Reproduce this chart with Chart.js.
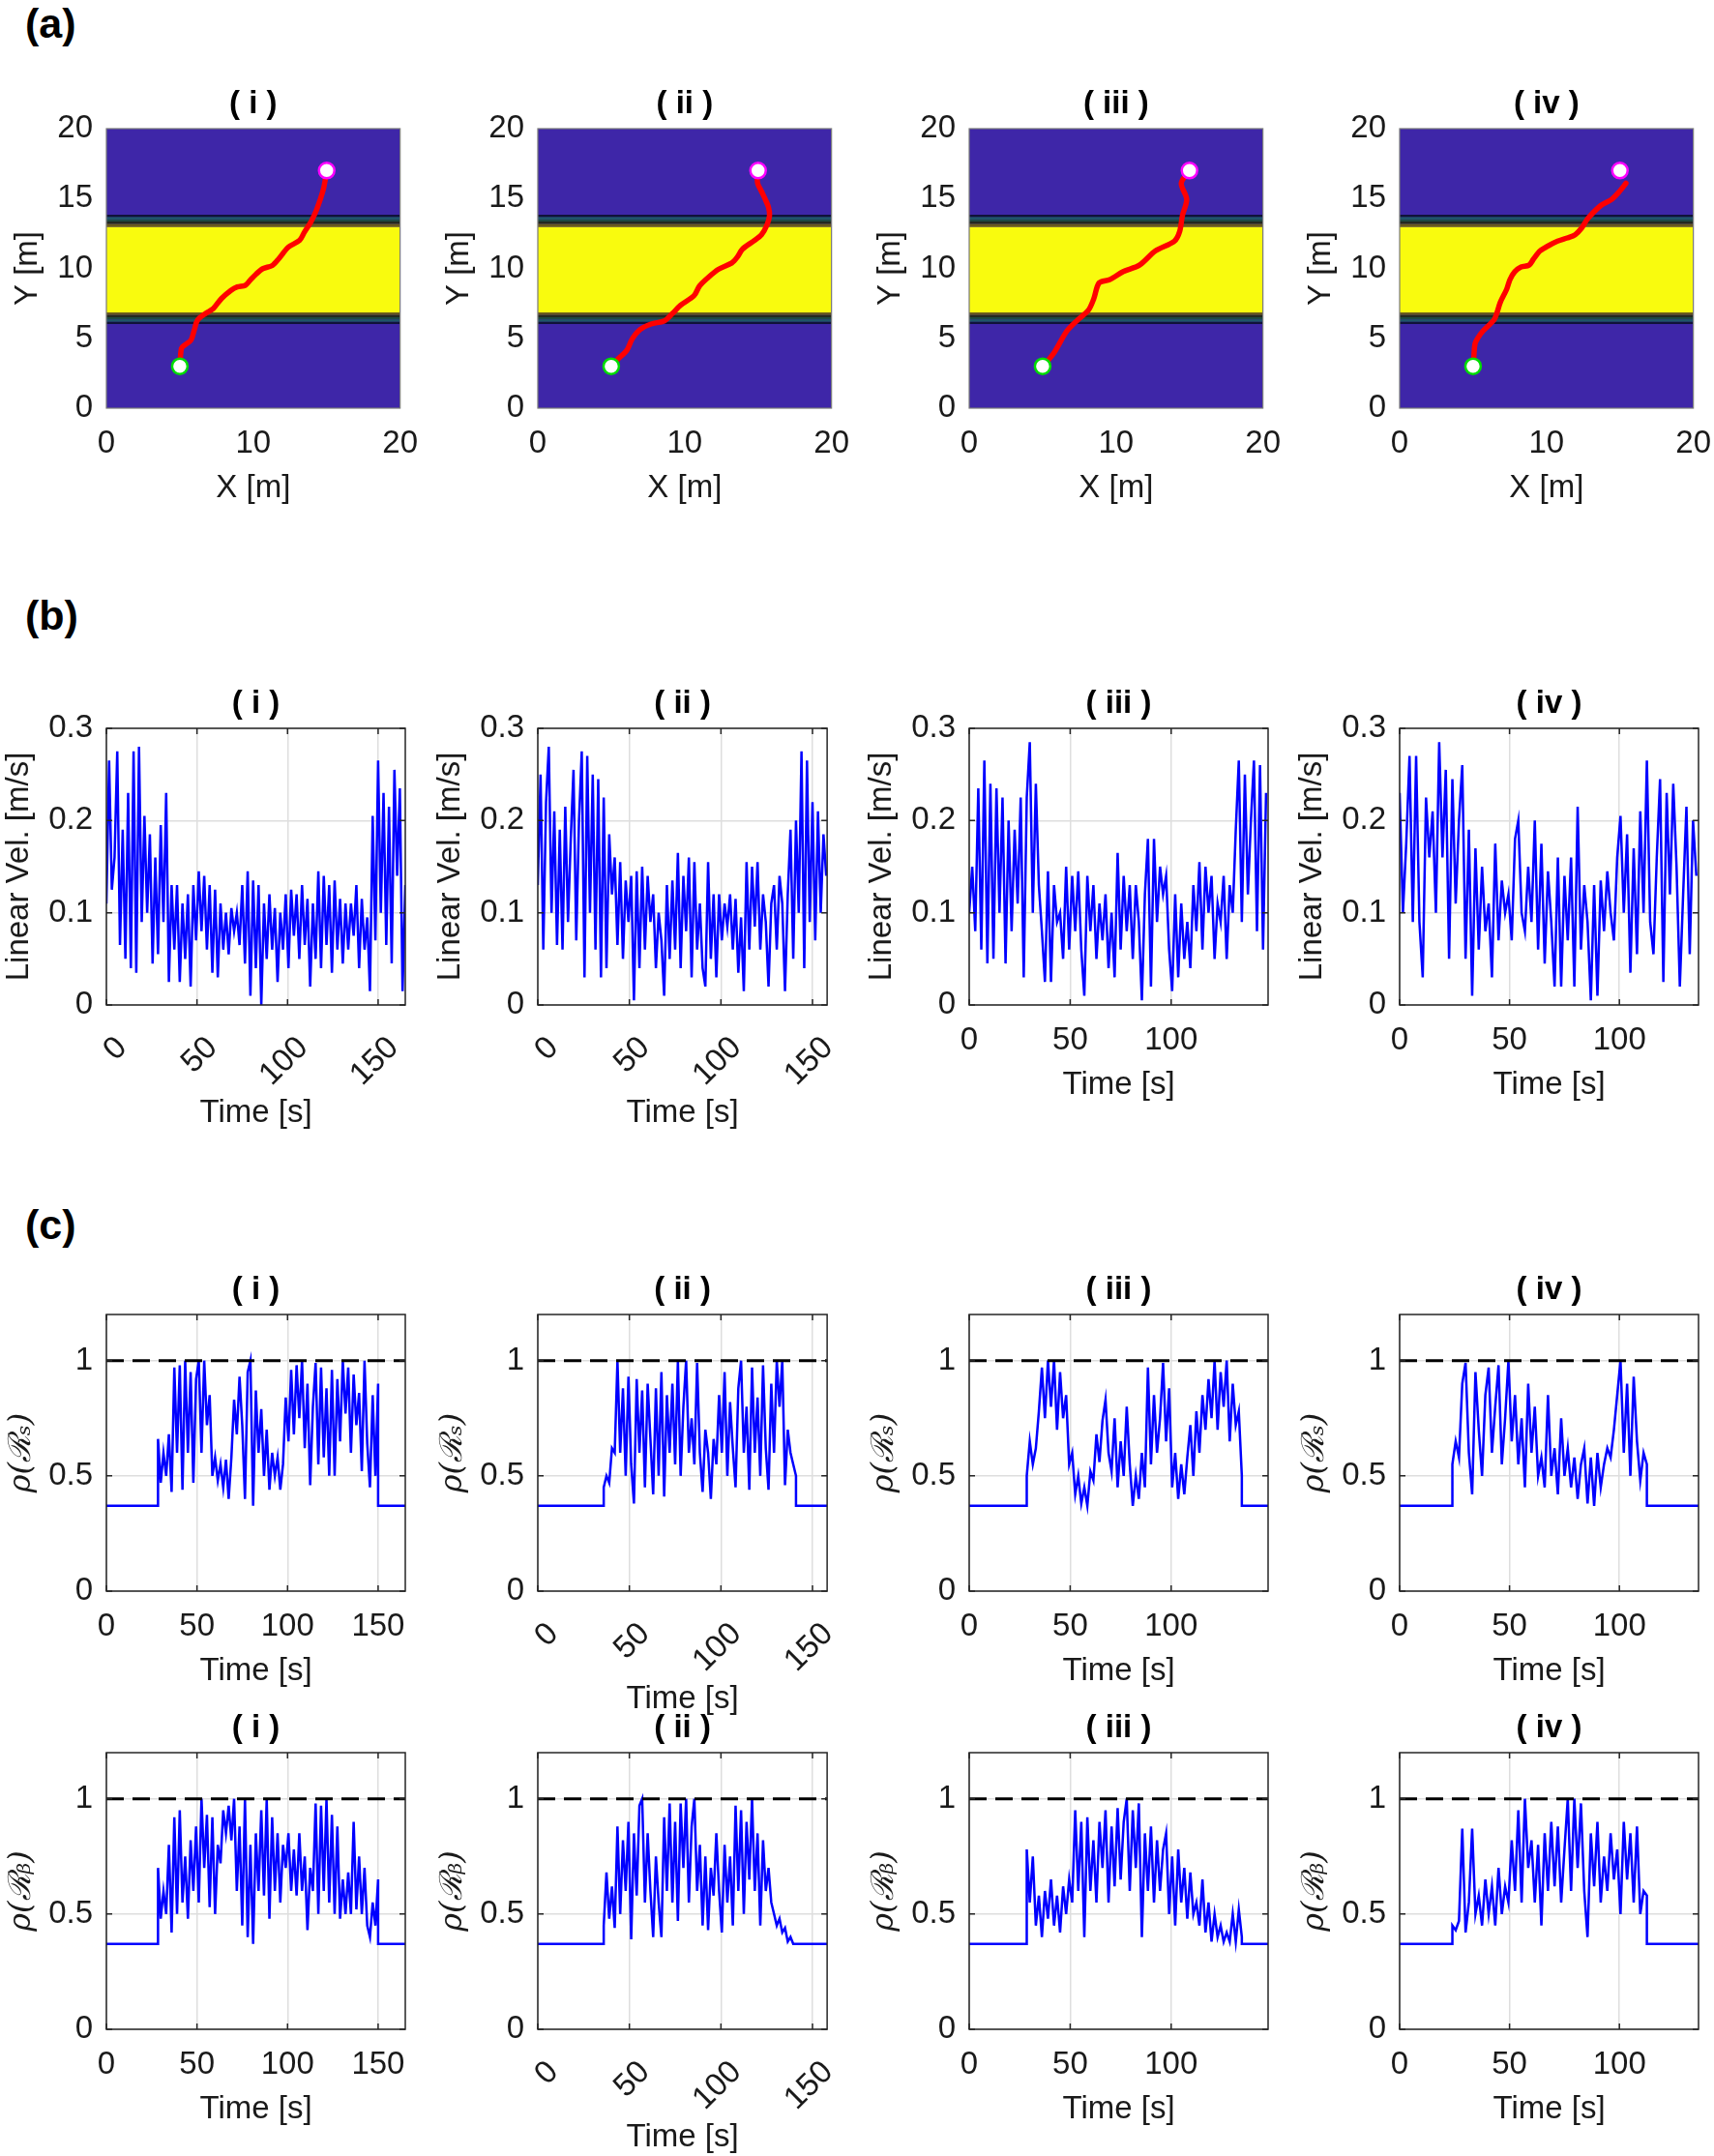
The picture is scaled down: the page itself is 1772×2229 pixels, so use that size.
<!DOCTYPE html>
<html><head><meta charset="utf-8">
<script src="https://cdn.jsdelivr.net/npm/chart.js@4/dist/chart.umd.min.js"></script>
<style>
html,body{margin:0;padding:0;background:#fff;}
body{width:1772px;height:2229px;position:relative;overflow:hidden;font-family:'Liberation Sans',Arial,Helvetica,sans-serif;}
.lbl{position:absolute;font-weight:bold;font-size:43px;line-height:1;color:#000;}
canvas{position:absolute;}
</style></head><body>
<div class="lbl" style="left:26px;top:3px">(a)</div>
<div class="lbl" style="left:26px;top:615px">(b)</div>
<div class="lbl" style="left:26px;top:1245px">(c)</div>
<script>
// ---------------- DATA ----------------
const panelTitles = ['( i )', '( ii )', '( iii )', '( iv )'];

// (a) trajectories [m]
const startPt = [5, 3];
const goalPt = [15, 17];
const trajXI = [5.0,5.11,5.33,5.76,5.98,6.2,6.74,7.28,7.83,8.48,8.91,9.46,9.78,10.22,10.65,11.3,11.74,12.39,13.15,13.48,13.91,14.24,14.57,14.78,14.89,15.0];
const trajYI = [2.97,4.28,4.51,4.87,5.58,6.29,6.77,7.13,7.84,8.43,8.67,8.79,9.14,9.62,9.98,10.21,10.69,11.52,12.0,12.59,13.3,14.01,14.96,15.68,16.27,16.98];
const trajXII = [4.95,5.5,6.06,6.42,6.97,7.71,8.62,9.17,9.72,10.64,11.01,11.56,12.29,13.21,13.58,13.94,14.68,15.23,15.6,15.78,15.71,15.49,15.23,14.97,14.94];
const trajYII = [2.99,3.56,4.14,4.94,5.63,6.02,6.25,6.78,7.36,8.05,8.74,9.31,9.93,10.39,10.8,11.38,11.95,12.41,13.1,13.79,14.37,14.94,15.52,16.09,16.94];
const trajXIII = [5.01,5.74,6.65,7.39,8.12,8.48,8.85,9.58,10.49,11.59,12.69,13.97,14.33,14.52,14.81,14.44,14.95];
const trajYIII = [2.99,3.91,5.52,6.32,7.01,7.82,8.97,9.2,9.77,10.23,11.26,11.95,12.64,13.79,14.94,16.09,16.94];
const trajXIV = [5.02,5.13,5.35,5.67,6.43,6.65,6.86,7.29,7.51,7.84,8.27,8.81,9.13,9.57,10.11,10.76,11.41,11.95,12.38,12.81,13.68,14.44,14.98,15.41];
const trajYIV = [2.99,4.6,5.06,5.52,6.32,6.9,7.59,8.51,9.2,9.77,10.11,10.23,10.69,11.26,11.61,11.95,12.18,12.41,12.87,13.56,14.48,14.94,15.52,16.09];
// (a) field contour levels [m]
const mapYellowBand = [6.85, 12.95];
const mapLowerLevels = [6.02, 6.18, 6.34, 6.5, 6.66, 6.85];
const mapUpperLevels = [13.84, 13.68, 13.52, 13.36, 13.2, 12.95];
const mapXTicks = [0, 10, 20];
const mapYTicks = [0, 5, 10, 15, 20];

// (b) linear velocity [m/s], uniformly sampled from 0 to velEnd
const velEnd = [165, 157.5, 147, 135];
const velI = [0.11,0.265,0.125,0.16,0.275,0.065,0.19,0.05,0.23,0.04,
0.275,0.035,0.28,0.09,0.205,0.1,0.185,0.045,0.16,0.055,
0.195,0.09,0.23,0.025,0.13,0.06,0.13,0.025,0.11,0.05,
0.12,0.02,0.13,0.07,0.145,0.08,0.14,0.06,0.13,0.035,
0.125,0.03,0.11,0.06,0.1,0.055,0.105,0.08,0.1,0.065,
0.13,0.045,0.145,0.01,0.135,0.04,0.13,0.0,0.11,0.05,
0.12,0.06,0.105,0.025,0.1,0.06,0.12,0.04,0.125,0.075,
0.12,0.05,0.13,0.065,0.115,0.02,0.11,0.05,0.145,0.04,
0.14,0.065,0.13,0.035,0.135,0.06,0.115,0.045,0.11,0.06,
0.11,0.075,0.13,0.04,0.115,0.06,0.095,0.015,0.205,0.07,
0.265,0.1,0.23,0.065,0.215,0.045,0.255,0.14,0.235,0.015,0.13];
const velII = [0.13,0.25,0.06,0.22,0.28,0.1,0.21,0.065,0.19,0.06,
0.215,0.09,0.18,0.255,0.07,0.2,0.275,0.03,0.27,0.1,
0.25,0.06,0.245,0.03,0.225,0.04,0.185,0.12,0.16,0.065,
0.155,0.05,0.135,0.09,0.14,0.005,0.145,0.04,0.15,0.06,
0.14,0.09,0.12,0.04,0.1,0.07,0.01,0.13,0.05,0.135,
0.06,0.165,0.04,0.14,0.08,0.16,0.03,0.155,0.06,0.11,
0.04,0.02,0.155,0.05,0.12,0.03,0.12,0.07,0.11,0.085,
0.12,0.06,0.115,0.035,0.095,0.015,0.155,0.06,0.15,0.085,
0.155,0.06,0.12,0.09,0.02,0.11,0.13,0.06,0.14,0.11,
0.015,0.12,0.19,0.05,0.2,0.1,0.275,0.04,0.265,0.09,
0.22,0.07,0.21,0.1,0.185,0.14];
const velIII = [0.1,0.15,0.08,0.235,0.06,0.265,0.045,0.24,0.05,0.235,
0.1,0.225,0.045,0.2,0.08,0.19,0.11,0.225,0.03,0.225,
0.285,0.1,0.24,0.13,0.08,0.025,0.145,0.025,0.13,0.09,
0.1,0.05,0.15,0.06,0.14,0.08,0.145,0.06,0.01,0.14,
0.08,0.13,0.05,0.11,0.07,0.12,0.04,0.1,0.03,0.165,
0.06,0.14,0.08,0.13,0.05,0.13,0.09,0.005,0.12,0.18,
0.02,0.18,0.09,0.15,0.12,0.14,0.06,0.015,0.12,0.03,
0.11,0.05,0.09,0.04,0.13,0.08,0.155,0.06,0.15,0.1,
0.14,0.05,0.11,0.09,0.14,0.05,0.13,0.1,0.19,0.265,
0.09,0.25,0.12,0.2,0.265,0.08,0.26,0.06,0.23];
const velIV = [0.23,0.1,0.175,0.27,0.09,0.27,0.09,0.03,0.225,0.16,
0.21,0.1,0.285,0.16,0.255,0.05,0.245,0.11,0.2,0.26,
0.05,0.19,0.01,0.17,0.06,0.15,0.08,0.11,0.03,0.175,
0.07,0.135,0.1,0.12,0.07,0.18,0.2,0.1,0.08,0.15,
0.09,0.2,0.06,0.175,0.045,0.145,0.09,0.02,0.16,0.02,
0.14,0.07,0.16,0.02,0.215,0.06,0.13,0.09,0.005,0.13,
0.01,0.135,0.08,0.145,0.1,0.07,0.16,0.205,0.1,0.185,
0.035,0.17,0.055,0.21,0.1,0.265,0.09,0.055,0.16,0.245,
0.025,0.23,0.12,0.24,0.15,0.02,0.12,0.215,0.055,0.2,
0.14];
const velYTicks = [0, 0.1, 0.2, 0.3];

// (c) robustness, active between rhoOn and rhoOff, flat level otherwise
const timeMax = [165, 158, 148, 136];
const timeTicks = [[0,50,100,150],[0,50,100,150],[0,50,100],[0,50,100]];
const rhoFlat = 0.37;
const rhoThreshold = 1;
const rhoOn = [28.5, 36, 28.5, 24];
const rhoOff = [150, 141, 135, 112.5];
const rsI = [0.66,0.47,0.6,0.5,0.68,0.43,0.97,0.6,0.98,0.44,
1.0,0.6,0.95,0.47,0.92,1.0,0.6,1.0,0.72,0.85,
0.5,0.58,0.48,0.55,0.45,0.57,0.4,0.58,0.83,0.68,
0.93,0.72,0.4,0.95,1.0,0.37,0.87,0.6,0.79,0.5,
0.7,0.44,0.6,0.5,0.58,0.44,0.55,0.84,0.65,0.96,
0.68,0.98,0.75,1.0,0.62,0.9,0.46,0.8,0.99,0.55,
0.97,0.58,0.88,0.5,0.96,0.5,0.92,0.65,1.0,0.77,
0.97,0.6,0.94,0.72,0.86,0.52,1.0,0.64,0.45,0.85,
0.5,0.9];
const rsII = [0.45,0.5,0.47,0.62,0.6,1.0,0.6,0.88,0.5,0.93,
0.55,0.38,0.92,0.6,0.87,0.45,0.9,0.66,0.42,0.88,
0.5,0.95,0.41,0.85,0.6,0.9,0.55,1.0,0.5,0.8,
1.0,0.6,0.75,0.55,0.99,0.6,0.43,0.7,0.6,0.4,
0.66,0.55,0.85,0.6,0.95,0.5,0.82,0.62,0.45,0.88,
1.0,0.6,0.8,0.44,0.97,0.6,0.84,0.5,0.98,0.62,
0.44,0.9,0.6,1.0,0.8,1.0,0.46,0.7,0.6,0.55,
0.5];
const rsIII = [0.5,0.65,0.55,0.62,0.78,0.97,0.75,1.0,0.8,1.0,
0.7,0.95,0.75,0.85,0.55,0.6,0.42,0.5,0.38,0.45,
0.37,0.52,0.48,0.68,0.56,0.74,0.83,0.6,0.52,0.75,
0.45,0.65,0.5,0.8,0.55,0.37,0.5,0.4,0.6,0.45,
0.97,0.55,0.85,0.6,0.75,0.99,0.65,0.88,0.45,0.6,
0.4,0.55,0.42,0.58,0.72,0.5,0.78,0.6,0.85,0.7,
0.92,0.75,1.0,0.7,0.95,0.8,1.0,0.65,0.9,0.72,
0.78,0.5];
const rsIV = [0.55,0.65,0.58,0.9,0.99,0.6,0.42,0.95,0.7,0.5,
0.85,0.97,0.6,0.8,0.98,0.55,0.75,1.0,0.65,0.85,
0.55,0.75,0.45,0.9,0.6,0.8,0.5,0.58,0.45,0.85,
0.5,0.62,0.42,0.75,0.5,0.62,0.45,0.58,0.4,0.55,
0.62,0.38,0.58,0.37,0.6,0.45,0.55,0.62,0.58,0.7,
0.85,1.0,0.6,0.9,0.5,0.93,0.65,0.48,0.6,0.55];
const rbI = [0.7,0.48,0.6,0.5,0.8,0.42,0.92,0.5,0.95,0.55,
0.75,0.48,0.82,0.6,0.88,0.55,1.0,0.7,0.93,0.53,
0.92,0.5,0.8,0.72,0.95,0.85,0.97,0.82,1.0,0.6,
0.88,0.45,1.0,0.4,0.8,0.37,0.85,0.6,0.95,0.58,
1.0,0.48,0.92,0.6,0.85,0.55,0.8,0.7,0.85,0.6,
0.78,0.58,0.85,0.6,0.75,0.43,0.7,0.6,0.98,0.5,
0.97,0.6,1.0,0.55,0.93,0.5,0.88,0.48,0.65,0.5,
0.68,0.5,0.9,0.52,0.75,0.5,0.7,0.45,0.4,0.55,
0.45,0.65];
const rbII = [0.45,0.68,0.48,0.62,0.44,0.88,0.5,0.82,0.6,0.9,
0.39,0.85,0.58,0.97,1.0,0.55,0.85,0.6,0.4,0.75,
0.55,0.4,0.92,0.6,0.98,0.55,0.9,0.47,0.98,0.7,
1.0,0.55,0.88,1.0,0.6,0.8,0.45,0.75,0.43,0.7,
0.58,0.85,0.6,0.42,0.8,0.55,0.75,0.45,0.97,0.6,
0.95,0.5,0.9,0.65,1.0,0.6,0.85,0.45,0.82,0.6,
0.7,0.55,0.5,0.45,0.48,0.42,0.44,0.38,0.4,0.37,
0.37];
const rbIII = [0.78,0.55,0.75,0.45,0.58,0.4,0.6,0.48,0.65,0.45,
0.58,0.42,0.62,0.5,0.65,0.55,0.95,0.6,0.9,0.4,
0.92,0.6,0.82,0.55,0.9,0.7,0.95,0.55,0.88,0.62,
0.96,0.65,0.9,1.0,0.6,0.95,0.7,0.98,0.4,0.85,
0.6,0.88,0.55,0.82,0.6,0.78,0.85,0.5,0.75,0.45,
0.78,0.55,0.7,0.48,0.68,0.5,0.55,0.45,0.65,0.42,
0.55,0.38,0.5,0.4,0.45,0.38,0.42,0.38,0.5,0.38,
0.52,0.4];
const rbIV = [0.45,0.43,0.47,0.87,0.42,0.55,0.87,0.5,0.58,0.45,
0.65,0.5,0.62,0.45,0.7,0.5,0.62,0.55,0.82,0.6,
0.95,0.55,1.0,0.7,0.82,0.55,0.8,0.45,0.85,0.6,
0.9,0.62,0.88,0.55,0.78,1.0,0.6,1.0,0.7,0.98,
0.6,0.4,0.85,0.62,0.9,0.55,0.75,0.6,0.85,0.65,
0.78,0.5,0.9,0.65,0.85,0.55,0.88,0.5,0.6,0.58];
const rhoYTicks = [0, 0.5, 1];

// ---------------- LAYOUT / STYLE ----------------
const COLS = [110, 556, 1002, 1447];
const PW = 309;
const ROWS = {a:{T:133,H:289}, b:{T:753,H:286}, c1:{T:1359,H:286}, c2:{T:1812,H:286}};
const PADL = 115, PADR = 30, PADT = 50, PADB = 140;
const FONT = "'Liberation Sans', Arial, Helvetica, sans-serif";
const TXT = '#1a1a1a';
const BLUE_MAP = '#3e26a8', YELLOW = '#f9fb0e';
const STRIPES = ['#10123a', '#1d5866', '#1e4a44', '#24281f', '#6a5a1e'];
const rotated = {b:[true,true,false,false], c1:[false,true,false,false], c2:[false,true,false,false]};

const framePlugin = {
  id: 'frame',
  afterDatasetsDraw(chart, args, opts) {
    const {ctx, chartArea: a} = chart;
    const xs = chart.scales.x, ys = chart.scales.y;
    ctx.save();
    ctx.strokeStyle = opts.color || '#262626';
    ctx.lineWidth = opts.width || 1.5;
    if (opts.ticks) {
      const tl = 6;
      ctx.beginPath();
      xs.ticks.forEach(t => { const p = xs.getPixelForValue(t.value);
        ctx.moveTo(p, a.bottom); ctx.lineTo(p, a.bottom - tl);
        ctx.moveTo(p, a.top); ctx.lineTo(p, a.top + tl); });
      ys.ticks.forEach(t => { const p = ys.getPixelForValue(t.value);
        ctx.moveTo(a.left, p); ctx.lineTo(a.left + tl, p);
        ctx.moveTo(a.right, p); ctx.lineTo(a.right - tl, p); });
      ctx.stroke();
    }
    ctx.strokeRect(a.left, a.top, a.right - a.left, a.bottom - a.top);
    ctx.restore();
  }
};

function panel(col, rowKey, spec) {
  const r = ROWS[rowKey];
  const L = COLS[col], T = r.T, H = r.H;
  const w = PADL + PW + PADR, h = PADT + H + PADB;
  const cv = document.createElement('canvas');
  cv.width = w; cv.height = h;
  cv.style.left = (L - PADL) + 'px'; cv.style.top = (T - PADT) + 'px';
  cv.style.width = w + 'px'; cv.style.height = h + 'px';
  document.body.appendChild(cv);
  const rot = spec.rot ? 45 : 0;
  const gridOpt = {display: spec.grid, color: '#dedede', lineWidth: 1.5, drawTicks: false};
  new Chart(cv.getContext('2d'), {
    type: 'line',
    data: {datasets: spec.datasets},
    plugins: [framePlugin],
    options: {
      responsive: false, animation: false, devicePixelRatio: 1,
      layout: {padding: {left: 0, right: PADR, top: 0, bottom: 0}},
      plugins: {
        legend: {display: false}, tooltip: {enabled: false},
        title: {display: true, text: spec.title, color: '#000', fullSize: false,
          font: {family: FONT, size: 33, weight: 'bold'}, padding: {top: 5.2, bottom: 5.2}},
        frame: {color: spec.frameColor, width: spec.frameWidth, ticks: spec.grid}
      },
      scales: {
        x: {type: 'linear', min: 0, max: spec.xMax,
          afterBuildTicks: s => { s.ticks = spec.xTicks.map(v => ({value: v})); },
          afterFit: s => { s.height = PADB; },
          grid: gridOpt, border: {display: false},
          ticks: {color: TXT, font: {family: FONT, size: 33}, autoSkip: false,
            minRotation: rot, maxRotation: rot, padding: spec.rot ? 25 : 17,
            labelOffset: spec.rot ? 16 : 0,
            callback: v => String(v)},
          title: {display: true, text: spec.xTitle, color: TXT, font: {family: FONT, size: 33},
            padding: {top: 0, bottom: spec.rot ? 8 : 37}}
        },
        y: {type: 'linear', min: 0, max: spec.yMax,
          afterBuildTicks: s => { s.ticks = spec.yTicks.map(v => ({value: v})); },
          afterFit: s => { s.width = PADL; },
          grid: gridOpt, border: {display: false},
          ticks: {color: TXT, font: {family: FONT, size: 33}, padding: 14, callback: v => String(v)},
          title: {display: true, text: spec.yTitle, color: TXT, font: spec.yFont,
            padding: {top: spec.yPad, bottom: 0}}
        }
      }
    }
  });
}

function band(hi, lo, color) {
  return {data: [{x: 0, y: hi}, {x: 20, y: hi}], fill: {value: lo}, backgroundColor: color,
    borderColor: 'rgba(0,0,0,0)', borderWidth: 0, pointRadius: 0};
}
function mapDatasets(tx, ty) {
  const ds = [];
  ds.push({data: [{x: goalPt[0], y: goalPt[1]}], showLine: false, pointRadius: 8,
    pointBackgroundColor: '#ffffff', pointBorderColor: '#ff00ff', pointBorderWidth: 2.5});
  ds.push({data: [{x: startPt[0], y: startPt[1]}], showLine: false, pointRadius: 8,
    pointBackgroundColor: '#ffffff', pointBorderColor: '#00dd00', pointBorderWidth: 2.5});
  ds.push({data: tx.map((x, i) => ({x: x, y: ty[i]})), borderColor: '#ff0000', borderWidth: 5.5,
    pointRadius: 0, tension: 0.3, borderCapStyle: 'round', borderJoinStyle: 'round'});
  ds.push(band(mapYellowBand[1], mapYellowBand[0], YELLOW));
  for (let i = 0; i < STRIPES.length; i++) {
    ds.push(band(mapLowerLevels[i + 1], mapLowerLevels[i], STRIPES[i]));
    ds.push(band(mapUpperLevels[i], mapUpperLevels[i + 1], STRIPES[i]));
  }
  ds.push(band(20, 0, BLUE_MAP));
  return ds;
}
function velSeries(vals, tEnd) {
  const dt = tEnd / (vals.length - 1);
  return vals.map((v, i) => ({x: i * dt, y: v}));
}
function rhoSeries(vals, on, off, xMax) {
  const dt = (off - on) / (vals.length - 1);
  const pts = [{x: 0, y: rhoFlat}, {x: on, y: rhoFlat}];
  vals.forEach((v, i) => pts.push({x: on + i * dt, y: v}));
  pts.push({x: off, y: rhoFlat}, {x: xMax, y: rhoFlat});
  return pts;
}

// (a)
const trajX = [trajXI, trajXII, trajXIII, trajXIV];
const trajY = [trajYI, trajYII, trajYIII, trajYIV];
for (let c = 0; c < 4; c++) {
  panel(c, 'a', {title: panelTitles[c], xMax: 20, yMax: 20, xTicks: mapXTicks, yTicks: mapYTicks,
    xTitle: 'X [m]', yTitle: 'Y [m]', yFont: {family: FONT, size: 33}, yPad: 14.2,
    grid: false, rot: false, frameColor: '#7a7a7a', frameWidth: 1.2,
    datasets: mapDatasets(trajX[c], trajY[c])});
}
// (b)
const vels = [velI, velII, velIII, velIV];
for (let c = 0; c < 4; c++) {
  panel(c, 'b', {title: panelTitles[c], xMax: timeMax[c], yMax: 0.3, xTicks: timeTicks[c], yTicks: velYTicks,
    xTitle: 'Time [s]', yTitle: 'Linear Vel. [m/s]', yFont: {family: FONT, size: 33}, yPad: 5.2,
    grid: true, rot: rotated.b[c],
    datasets: [{data: velSeries(vels[c], velEnd[c]), borderColor: '#0000ff', borderWidth: 2.5, pointRadius: 0, tension: 0}]});
}
// (c)
const rhoRows = [['c1', [rsI, rsII, rsIII, rsIV], 'ρ(ℛₛ)'], ['c2', [rbI, rbII, rbIII, rbIV], 'ρ(ℛᵦ)']];
rhoRows.forEach(([rk, series, label]) => {
  for (let c = 0; c < 4; c++) {
    panel(c, rk, {title: panelTitles[c], xMax: timeMax[c], yMax: 1.2, xTicks: timeTicks[c], yTicks: rhoYTicks,
      xTitle: 'Time [s]', yTitle: label, yFont: {family: "'DejaVu Serif', serif", size: 32, style: 'italic'}, yPad: 8,
      grid: true, rot: rotated[rk][c],
      datasets: [
        {data: [{x: 0, y: rhoThreshold}, {x: timeMax[c], y: rhoThreshold}], borderColor: '#000', borderWidth: 3,
          borderDash: [18, 9], pointRadius: 0},
        {data: rhoSeries(series[c], rhoOn[c], rhoOff[c], timeMax[c]), borderColor: '#0000ff', borderWidth: 2.5,
          pointRadius: 0, tension: 0}
      ]});
  }
});
</script>
</body></html>
